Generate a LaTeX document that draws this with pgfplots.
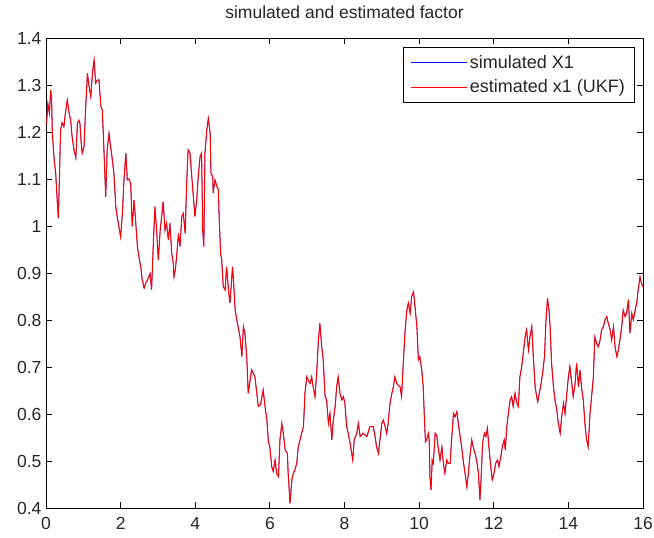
\documentclass[border=0pt]{standalone}
\usepackage{pgfplots}
\usepackage{pgfplotstable}
\pgfplotsset{compat=1.18}
\usepackage{fontspec}
\setmainfont{Liberation Sans}

\pgfplotstableread{
x y
0.00 1.215
0.02 1.226
0.05 1.26
0.09 1.24
0.126 1.289
0.15 1.27
0.17 1.197
0.22 1.14
0.26 1.112
0.30 1.055
0.33 1.017
0.36 1.10
0.39 1.204
0.43 1.22
0.48 1.211
0.52 1.24
0.57 1.268
0.62 1.24
0.66 1.226
0.70 1.19
0.75 1.162
0.80 1.145
0.84 1.218
0.88 1.225
0.91 1.218
0.94 1.18
0.97 1.155
1.02 1.169
1.06 1.247
1.11 1.325
1.15 1.30
1.20 1.275
1.25 1.33
1.29 1.353
1.33 1.304
1.37 1.31
1.42 1.311
1.47 1.254
1.51 1.247
1.55 1.168
1.60 1.062
1.64 1.162
1.69 1.197
1.73 1.169
1.78 1.140
1.82 1.112
1.87 1.041
1.91 1.019
1.95 1.00
2.00 0.977
2.05 1.03
2.09 1.098
2.14 1.155
2.18 1.098
2.22 1.10
2.27 1.091
2.31 0.999
2.36 1.055
2.40 1.013
2.45 0.956
2.49 0.935
2.54 0.913
2.58 0.885
2.63 0.868
2.68 0.88
2.72 0.885
2.79 0.899
2.83 0.864
2.88 0.970
2.92 1.041
2.97 0.984
3.01 0.928
3.06 0.991
3.10 1.020
3.14 1.052
3.19 0.991
3.23 1.006
3.28 0.970
3.32 1.006
3.37 0.942
3.41 0.921
3.43 0.892
3.47 0.91
3.50 0.935
3.55 0.984
3.59 0.956
3.64 1.020
3.68 1.027
3.73 0.984
3.77 1.091
3.81 1.162
3.86 1.155
3.90 1.112
3.95 1.062
3.99 1.020
4.04 1.055
4.08 1.105
4.13 1.148
4.17 1.155
4.20 0.991
4.23 0.956
4.26 1.155
4.31 1.204
4.35 1.229
4.40 1.197
4.42 1.112
4.47 1.105
4.48 1.070
4.53 1.098
4.58 1.084
4.62 1.077
4.64 1.020
4.68 0.942
4.71 0.928
4.75 0.871
4.80 0.864
4.84 0.913
4.89 0.864
4.93 0.836
5.00 0.913
5.04 0.864
5.07 0.821
5.13 0.793
5.20 0.764
5.25 0.722
5.29 0.786
5.33 0.772
5.38 0.722
5.42 0.644
5.51 0.694
5.60 0.679
5.69 0.616
5.75 0.62
5.82 0.651
5.87 0.616
5.92 0.587
5.96 0.541
6.00 0.530
6.05 0.488
6.09 0.478
6.14 0.502
6.18 0.474
6.23 0.467
6.27 0.545
6.32 0.580
6.36 0.559
6.41 0.523
6.47 0.516
6.49 0.474
6.54 0.410
6.59 0.460
6.63 0.474
6.67 0.481
6.72 0.495
6.76 0.530
6.81 0.545
6.85 0.559
6.90 0.573
6.94 0.644
6.99 0.679
7.04 0.67
7.08 0.665
7.12 0.679
7.16 0.658
7.21 0.637
7.26 0.694
7.30 0.757
7.34 0.793
7.39 0.743
7.43 0.715
7.48 0.637
7.52 0.630
7.57 0.580
7.61 0.601
7.66 0.545
7.70 0.587
7.75 0.616
7.79 0.658
7.83 0.679
7.88 0.644
7.93 0.630
7.97 0.637
8.01 0.623
8.06 0.573
8.10 0.559
8.15 0.538
8.22 0.502
8.26 0.545
8.33 0.559
8.37 0.580
8.42 0.552
8.50 0.559
8.60 0.552
8.68 0.573
8.77 0.573
8.82 0.552
8.86 0.530
8.91 0.516
8.95 0.545
9.00 0.580
9.04 0.587
9.09 0.573
9.13 0.559
9.17 0.580
9.22 0.623
9.27 0.644
9.31 0.658
9.35 0.679
9.40 0.665
9.45 0.66
9.49 0.658
9.53 0.637
9.58 0.715
9.62 0.772
9.67 0.821
9.71 0.836
9.76 0.814
9.80 0.850
9.85 0.860
9.89 0.828
9.94 0.786
9.98 0.715
10.02 0.722
10.07 0.694
10.11 0.658
10.14 0.594
10.17 0.541
10.20 0.545
10.25 0.559
10.27 0.545
10.29 0.467
10.32 0.438
10.35 0.502
10.38 0.495
10.43 0.559
10.47 0.555
10.51 0.530
10.56 0.502
10.61 0.530
10.65 0.495
10.69 0.474
10.74 0.502
10.78 0.495
10.83 0.495
10.87 0.545
10.92 0.601
10.96 0.594
11.01 0.605
11.05 0.580
11.10 0.552
11.14 0.530
11.18 0.502
11.23 0.474
11.28 0.445
11.32 0.474
11.36 0.509
11.41 0.545
11.45 0.530
11.50 0.516
11.54 0.502
11.59 0.474
11.63 0.417
11.66 0.460
11.70 0.538
11.75 0.559
11.79 0.552
11.83 0.570
11.87 0.530
11.92 0.488
11.96 0.460
12.01 0.474
12.05 0.495
12.10 0.502
12.14 0.488
12.19 0.509
12.23 0.530
12.28 0.545
12.31 0.523
12.35 0.573
12.39 0.601
12.44 0.630
12.48 0.637
12.52 0.616
12.57 0.644
12.62 0.623
12.66 0.616
12.70 0.679
12.75 0.701
12.79 0.729
12.84 0.764
12.88 0.779
12.93 0.736
12.97 0.764
13.02 0.786
13.06 0.722
13.11 0.658
13.15 0.637
13.18 0.626
13.22 0.644
13.27 0.665
13.31 0.687
13.36 0.722
13.40 0.800
13.44 0.846
13.48 0.821
13.51 0.786
13.55 0.708
13.60 0.658
13.64 0.630
13.69 0.609
13.73 0.580
13.78 0.559
13.82 0.594
13.87 0.623
13.91 0.601
13.96 0.644
14.00 0.679
14.04 0.701
14.09 0.665
14.13 0.637
14.18 0.665
14.22 0.708
14.27 0.658
14.31 0.694
14.36 0.651
14.40 0.630
14.45 0.573
14.49 0.545
14.53 0.530
14.58 0.601
14.63 0.644
14.67 0.679
14.71 0.764
14.76 0.750
14.80 0.743
14.85 0.757
14.89 0.779
14.94 0.786
14.98 0.800
15.03 0.807
15.07 0.793
15.12 0.779
15.16 0.757
15.21 0.786
15.25 0.743
15.30 0.722
15.34 0.736
15.38 0.757
15.43 0.786
15.47 0.821
15.52 0.807
15.56 0.814
15.61 0.843
15.65 0.772
15.70 0.814
15.74 0.800
15.79 0.821
15.83 0.836
15.87 0.864
15.92 0.892
15.96 0.878
16.00 0.870
}\factordata

\begin{document}
\begin{tikzpicture}
\begin{axis}[
  at={(46pt,30pt)}, anchor=south west,
  width=597pt, height=470pt, scale only axis,
  xmin=0, xmax=16, ymin=0.4, ymax=1.4,
  xtick={0,2,4,6,8,10,12,14,16},
  ytick={0.4,0.5,0.6,0.7,0.8,0.9,1,1.1,1.2,1.3,1.4},
  yticklabels={0.4,0.5,0.6,0.7,0.8,0.9,1,1.1,1.2,1.3,1.4},
  xticklabels={0,2,4,6,8,10,12,14,16},
  tick align=inside,
  major tick length=6pt,
  tick style={black, line width=0.8pt},
  axis line style={black, line width=0.8pt},
  /pgf/number format/assume math mode=true,
  ticklabel style={font=\fontsize{17.5}{18}\selectfont, text=black!85},
  xticklabel style={yshift=-6pt},
  yticklabel style={xshift=-1pt},
  title={simulated and estimated factor},
  title style={at={(0.5,1)}, anchor=base, yshift=13pt, font=\fontsize{17.5}{18}\selectfont, inner sep=0pt, text=black!85},
  legend style={at={(0.987,0.981)}, anchor=north east, draw=black, line width=0.8pt,
    font=\fontsize{18}{18}\selectfont, inner xsep=8pt, inner ysep=6pt, row sep=6pt,
    text=black!85, cells={anchor=west}},
  legend image code/.code={\draw[#1, line width=0.8pt] (0pt,0pt) -- (56pt,0pt);},
  legend cell align=left,
]
\addplot[blue, line width=0.6pt] table[x=x, y=y] {\factordata};
\addlegendentry{simulated X1}
\addplot[red, line width=1pt] table[x=x, y=y] {\factordata};
\addlegendentry{estimated x1 (UKF)}
\end{axis}
\pgfresetboundingbox
\path[use as bounding box] (0,0) rectangle (654pt,538pt);
\end{tikzpicture}
\end{document}
